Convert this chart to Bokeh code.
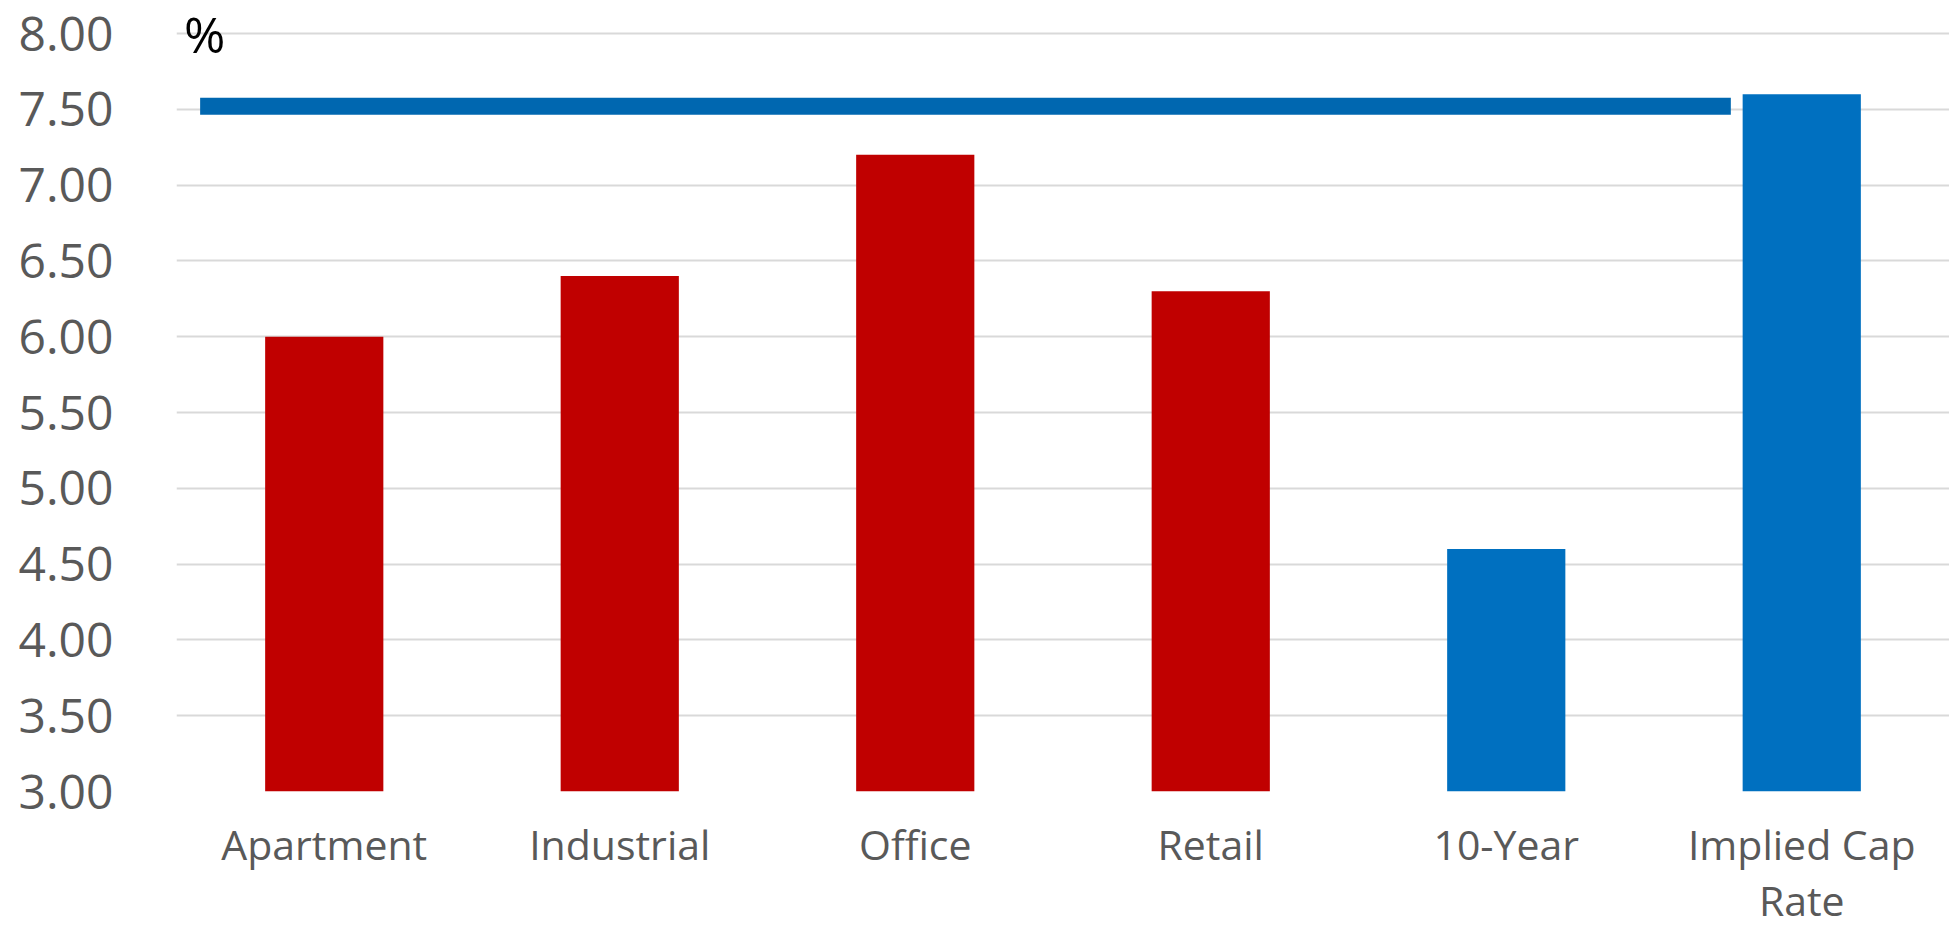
from bokeh.plotting import figure
from bokeh.models import FixedTicker, Range1d, Label
from bokeh.embed import file_html
from bokeh.resources import INLINE

categories = ["Apartment", "Industrial", "Office", "Retail", "10-Year", "Implied Cap\nRate"]
values = [6.00, 6.40, 7.20, 6.30, 4.60, 7.60]
bar_colors = ["#C00000", "#C00000", "#C00000", "#C00000", "#0070C0", "#0070C0"]
y_ticks = [3.0, 3.5, 4.0, 4.5, 5.0, 5.5, 6.0, 6.5, 7.0, 7.5, 8.0]
y_tick_labels = ["3.00", "3.50", "4.00", "4.50", "5.00", "5.50", "6.00", "6.50", "7.00", "7.50", "8.00"]
ref_line_x = [0.08, 5.26]
ref_line_y = [7.52, 7.52]
unit_label = "%"

FONT = "Open Sans"

x_pos = [i + 0.5 for i in range(len(categories))]

p = figure(width=1949, height=930, output_backend="svg", toolbar_location=None,
           x_range=Range1d(0, len(categories)), y_range=Range1d(3, 8.165),
           min_border_left=176, min_border_right=0, min_border_top=8, min_border_bottom=139)
p.outline_line_color = None
p.background_fill_color = "white"
p.border_fill_color = "white"

p.vbar(x=x_pos, top=values, bottom=3, width=0.4, fill_color=bar_colors, line_color=None)
p.line(x=ref_line_x, y=ref_line_y, line_color="#0067B0", line_width=17)

# axes
p.xaxis.ticker = FixedTicker(ticks=x_pos)
p.xaxis.major_label_overrides = {x: c for x, c in zip(x_pos, categories)}
p.xaxis.axis_line_color = None
p.xaxis.major_tick_line_color = None
p.xaxis.minor_tick_line_color = None
p.xaxis.major_label_text_font = FONT
p.xaxis.major_label_text_font_size = "41px"
p.xaxis.major_label_text_color = "#595959"
p.xaxis.major_label_text_line_height = 1.0
p.xaxis.major_label_standoff = 18

p.yaxis.ticker = FixedTicker(ticks=y_ticks)
p.yaxis.major_label_overrides = {t: l for t, l in zip(y_ticks, y_tick_labels)}
p.yaxis.axis_line_color = None
p.yaxis.major_tick_line_color = None
p.yaxis.minor_tick_line_color = None
p.yaxis.major_label_text_font = FONT
p.yaxis.major_label_text_font_size = "48px"
p.yaxis.major_label_text_color = "#595959"
p.yaxis.major_label_standoff = 57

p.xgrid.grid_line_color = None
p.ygrid.ticker = FixedTicker(ticks=y_ticks)
p.ygrid.grid_line_color = "#D9D9D9"
p.ygrid.grid_line_width = 2

p.add_layout(Label(x=0.025, y=8.0, text=unit_label, text_font=FONT, text_font_size="50px",
                   text_color="black", text_baseline="alphabetic", y_offset=0))

open("out.html", "w").write(file_html(p, INLINE))
